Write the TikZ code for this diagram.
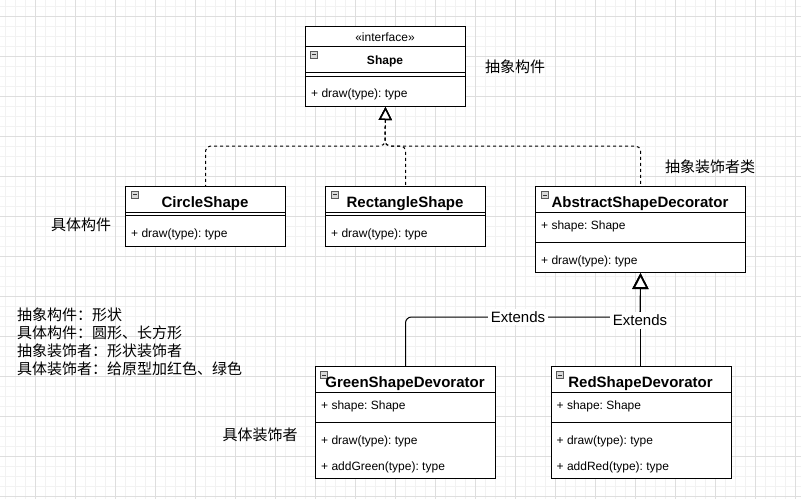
\documentclass[tikz,border=0pt]{standalone}
\usepackage{fontspec}
\setmainfont{Liberation Sans}
\newfontfamily\cjk{Noto Sans CJK SC}
\usetikzlibrary{arrows.meta,calc}
\frenchspacing
\newcommand\minusicon[2]{%
  \draw[draw=gray!70!black, fill=gray!30, line width=0.7pt] (#1,#2) rectangle ++(7,7);
  \draw[draw=black!80, line width=1pt] ($(#1,#2)+(1.5,3.5)$) -- ++(4,0);}
\begin{document}
\begin{tikzpicture}[x=1pt,y=-1pt,
  box/.style={draw=black, line width=1pt, fill=white, anchor=north west, inner sep=0pt},
  ttl/.style={font=\fontsize{15}{18}\selectfont\bfseries\frenchspacing, anchor=base, inner sep=0pt},
  sttl/.style={font=\fontsize{12}{14}\selectfont\bfseries\frenchspacing, anchor=base, inner sep=0pt},
  txt/.style={font=\fontsize{12}{14}\selectfont\frenchspacing, anchor=base west, inner sep=0pt},
  stereo/.style={font=\fontsize{12}{14}\selectfont, anchor=base, inner sep=0pt},
  cn/.style={font=\cjk\fontsize{15}{18}\selectfont, inner sep=0pt},
  sep/.style={draw=black, line width=1pt},
  realize/.style={draw=black, line width=1pt, dash pattern=on 3pt off 3pt, rounded corners=5pt,
    {Triangle[length=13pt, width=13pt, fill=white, line width=1.5pt, sep=0pt]}-},
  ext/.style={draw=black, line width=1pt, rounded corners=6pt,
    {Triangle[length=16pt, width=16pt, fill=white, line width=1.8pt]}-},
  lbl/.style={font=\fontsize{15}{18}\selectfont, fill=white, inner sep=2.5pt},
]
\useasboundingbox (0,0) rectangle (801,499);
\fill[white] (0,0) rectangle (801,499);
% grid
\foreach \x in {5,15,...,795} \draw[color=black!5, line width=0.8pt] (\x,0) -- (\x,499);
\foreach \y in {6,16,...,496} \draw[color=black!5, line width=0.8pt] (0,\y) -- (801,\y);
\foreach \x in {35,75,...,795} \draw[color=black!13, line width=0.8pt] (\x,0) -- (\x,499);
\foreach \y in {16,56,...,496} \draw[color=black!13, line width=0.8pt] (0,\y) -- (801,\y);

% boxes
\node[box, minimum width=160pt, minimum height=80pt] (shape) at (305,26) {};
\node[box, minimum width=160pt, minimum height=60pt] (circle) at (125,186) {};
\node[box, minimum width=160pt, minimum height=60pt] (rect) at (325,186) {};
\node[box, minimum width=210pt, minimum height=86pt] (abs) at (535,186) {};
\node[box, minimum width=180pt, minimum height=112pt] (green) at (315,366) {};
\node[box, minimum width=180pt, minimum height=112pt] (red) at (550.5,366) {};

% compartments
\draw[sep] (305,46.5) -- (465,46.5);
\draw[sep] (305,72) -- (465,72);
\draw[sep] (305,76.5) -- (465,76.5);
\draw[sep] (125,212) -- (285,212);
\draw[sep] (125,215.5) -- (285,215.5);
\draw[sep] (325,212) -- (485,212);
\draw[sep] (325,215.5) -- (485,215.5);
\draw[sep] (535,212) -- (745,212);
\draw[sep] (535,242) -- (745,242);
\draw[sep] (315,392) -- (495,392);
\draw[sep] (315,422) -- (495,422);
\draw[sep] (550.5,392) -- (730.5,392);
\draw[sep] (550.5,422) -- (730.5,422);

% icons
\minusicon{310.5}{51}
\minusicon{131.5}{191}
\minusicon{331.5}{191}
\minusicon{541}{191.5}
\minusicon{320.5}{371.5}
\minusicon{556.5}{371.5}

% texts
\node[stereo] (s1) at (385,41) {«interface»};
\node[sttl] (s2) at (385,64) {Shape};
\node[txt] (s3) at (311,97.5) {+ draw(type): type};

\node[ttl] (c1) at (205,207) {CircleShape};
\node[txt] (c2) at (131,237.5) {+ draw(type): type};

\node[ttl] (r1) at (405,207) {RectangleShape};
\node[txt] (r2) at (331,237.5) {+ draw(type): type};

\node[ttl] (a1) at (640,207) {AbstractShapeDecorator};
\node[txt] (a2) at (541,229.5) {+ shape: Shape};
\node[txt] (a3) at (541,264) {+ draw(type): type};

\node[ttl] (g1) at (405,387.5) {GreenShapeDevorator};
\node[txt] (g2) at (321,409.5) {+ shape: Shape};
\node[txt] (g3) at (321,444) {+ draw(type): type};
\node[txt] (g4) at (321,470) {+ addGreen(type): type};

\node[ttl] (d1) at (640.5,387.5) {RedShapeDevorator};
\node[txt] (d2) at (556.5,409.5) {+ shape: Shape};
\node[txt] (d3) at (556.5,444) {+ draw(type): type};
\node[txt] (d4) at (556.5,470) {+ addRed(type): type};

% connectors
\coordinate (j) at (385,146);
\draw[realize] (shape.south) -- (j) -| (circle.north);
\draw[realize] (shape.south) -- (j) -| (rect.north);
\draw[realize] (shape.south) -- (j) -| (abs.north);

\coordinate (k) at (640,317);
\draw[ext] (abs.south) -- (k) -| (green.north);
\draw[ext] (abs.south) -- (abs.south |- red.north);
\node[lbl] (e1) at (518,317) {Extends};
\node[lbl] (e2) at (640,320.5) {Extends};

% chinese labels
\node[cn] (l1) at (515,67) {抽象构件};
\node[cn] (l2) at (710,167) {抽象装饰者类};
\node[cn] (l3) at (81,225) {具体构件};
\node[cn] (l4) at (260,435) {具体装饰者};
\node[cn, anchor=west] (t1) at (17,315) {抽象构件：形状};
\node[cn, anchor=west] (t2) at (17,333) {具体构件：圆形、长方形};
\node[cn, anchor=west] (t3) at (17,351) {抽象装饰者：形状装饰者};
\node[cn, anchor=west] (t4) at (17,369) {具体装饰者：给原型加红色、绿色};
\end{tikzpicture}
\end{document}
